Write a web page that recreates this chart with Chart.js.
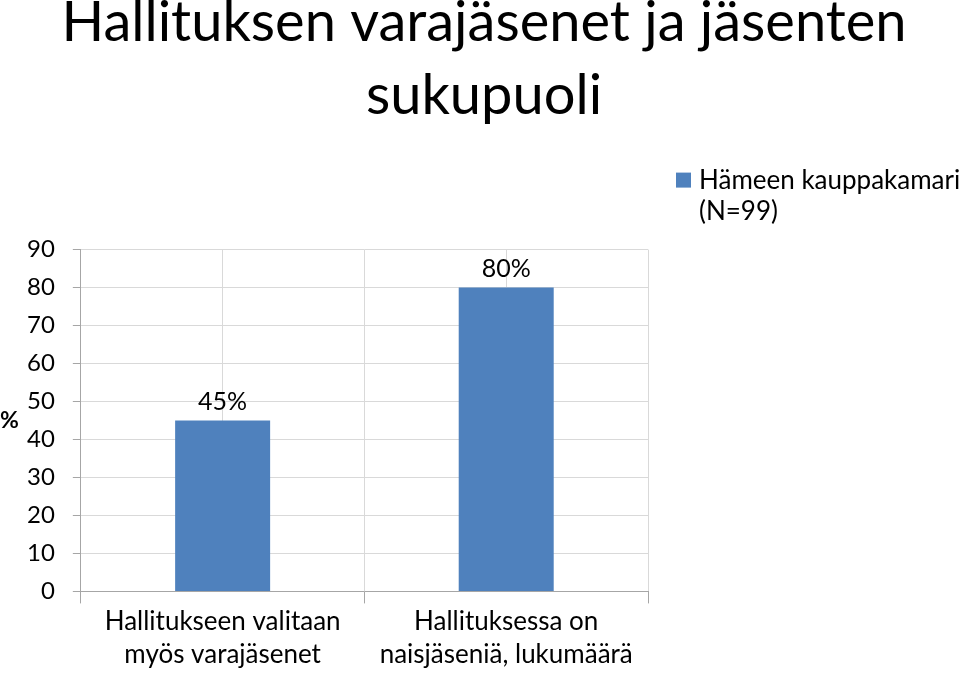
<!DOCTYPE html>
<html>
<head>
<meta charset="utf-8">
<script src="https://cdn.jsdelivr.net/npm/chart.js@4.4.1/dist/chart.umd.min.js"></script>
<style>
  html, body { margin: 0; padding: 0; background: #fff; }
  #wrap { width: 959px; height: 676px; }
</style>
</head>
<body>
<div id="wrap"><canvas id="chart"></canvas></div>
<script>
const titleLines = ['Hallituksen varajäsenet ja jäsenten', 'sukupuoli'];
const categories = [
    ['Hallitukseen valitaan', 'myös varajäsenet'],
    ['Hallituksessa on', 'naisjäseniä, lukumäärä']
];
const seriesLabel = ['Hämeen kauppakamari', '(N=99)'];
const seriesValues = [45, 80];
const yMin = 0;
const yMax = 90;
const yStep = 10;
const yUnit = '%';

const FONT = 'Lato, Carlito, Calibri, sans-serif';
const BAR_BLUE = '#4f81bd';
const GRID = '#d9d9d9';
const AXIS = '#a6a6a6';

// value labels above each bar ("45%")
const valueLabels = {
    id: 'valueLabels',
    afterDatasetsDraw(chart) {
        const ctx = chart.ctx;
        const meta = chart.getDatasetMeta(0);
        ctx.save();
        ctx.font = `25px ${FONT}`;
        ctx.fillStyle = '#000';
        ctx.textAlign = 'center';
        ctx.textBaseline = 'alphabetic';
        meta.data.forEach((bar, i) => {
            ctx.fillText(`${seriesValues[i]}%`, bar.x, bar.y - 11);
        });
        ctx.restore();
    }
};

// upright unit label left of the y axis
const unitLabel = {
    id: 'unitLabel',
    afterDraw(chart) {
        const ctx = chart.ctx;
        const area = chart.chartArea;
        ctx.save();
        ctx.font = `bold 23px ${FONT}`;
        ctx.fillStyle = '#000';
        ctx.textAlign = 'left';
        ctx.textBaseline = 'middle';
        ctx.fillText(yUnit, 0, (area.top + area.bottom) / 2);
        ctx.restore();
    }
};

// legend with a two-line label, sitting above the plot on the right
const sideLegend = {
    id: 'sideLegend',
    afterDraw(chart) {
        const ctx = chart.ctx;
        const area = chart.chartArea;
        const ds = chart.data.datasets[0];
        const x = area.right + 28;
        const y = area.top - 69;
        const lineH = 31;
        ctx.save();
        ctx.fillStyle = ds.backgroundColor;
        ctx.fillRect(x, y - 8, 15, 15);
        ctx.font = `26px ${FONT}`;
        ctx.fillStyle = '#000';
        ctx.textAlign = 'left';
        ctx.textBaseline = 'middle';
        ds.label.forEach((line, i) => ctx.fillText(line, x + 23, y + i * lineH));
        ctx.restore();
    }
};

new Chart(document.getElementById('chart'), {
    type: 'bar',
    data: {
        labels: categories,
        datasets: [{
            label: seriesLabel,
            data: seriesValues,
            backgroundColor: BAR_BLUE,
            borderWidth: 0,
            barPercentage: 0.335,
            categoryPercentage: 1
        }]
    },
    options: {
        responsive: true,
        maintainAspectRatio: false,
        animation: false,
        layout: { padding: { left: 9, right: 0, top: 0, bottom: 3 } },
        plugins: {
            title: {
                display: true,
                text: titleLines,
                color: '#000',
                font: { family: FONT, size: 56, weight: 'normal', lineHeight: 1.3 },
                padding: { top: -13, bottom: 117 }
            },
            legend: { display: false },
            tooltip: { enabled: false }
        },
        scales: {
            x: {
                offset: true,
                grid: { offset: true, color: GRID, tickColor: AXIS, tickLength: 12 },
                border: { color: AXIS },
                ticks: {
                    color: '#000',
                    font: { family: FONT, size: 26, lineHeight: 1.3 },
                    padding: 1,
                    maxRotation: 0,
                    autoSkip: false
                }
            },
            xMid: {
                type: 'category',
                position: 'bottom',
                offset: true,
                grid: { offset: false, color: GRID, drawTicks: false },
                border: { display: false },
                ticks: { display: false }
            },
            y: {
                min: yMin,
                max: yMax,
                grid: { color: GRID, tickColor: AXIS, tickLength: 8 },
                border: { color: AXIS },
                ticks: {
                    stepSize: yStep,
                    color: '#000',
                    font: { family: FONT, size: 24 },
                    padding: 18
                }
            },
            yRight: {
                type: 'linear',
                position: 'right',
                grid: { drawOnChartArea: false, drawTicks: false },
                border: { display: false },
                ticks: { display: false },
                afterFit(scale) { scale.width = 311; }
            }
        }
    },
    plugins: [valueLabels, unitLabel, sideLegend]
});
</script>
</body>
</html>
